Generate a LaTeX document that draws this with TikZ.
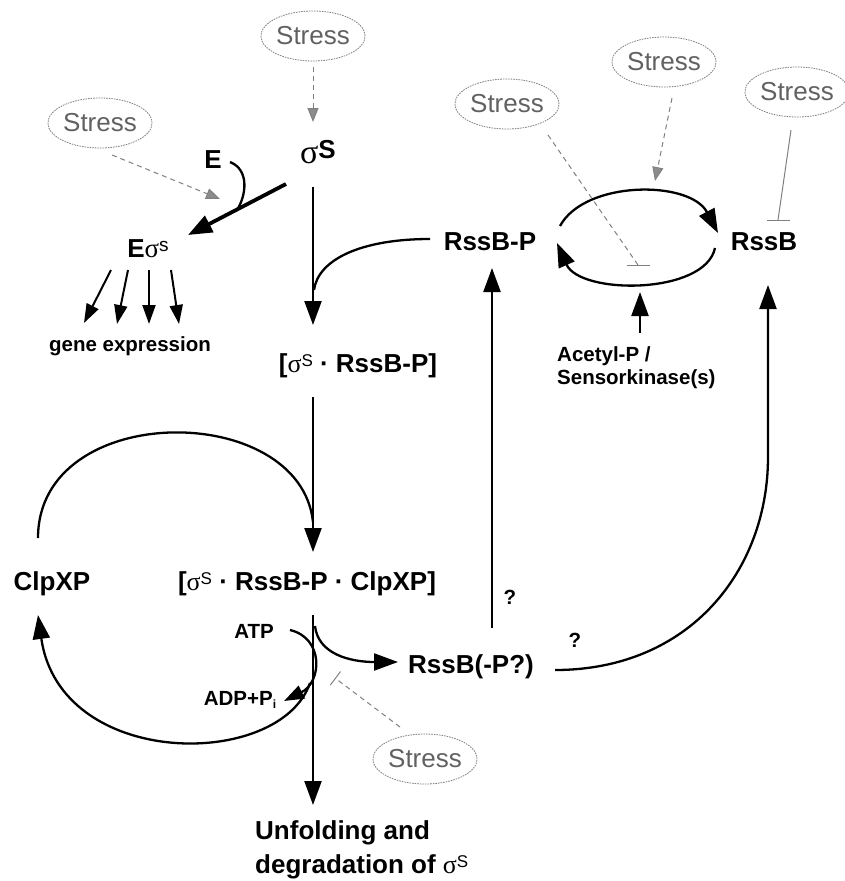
\documentclass[tikz,border=0pt]{standalone}
\usepackage{fontspec}
\setmainfont{Liberation Sans}
\newfontfamily\grk{Liberation Serif}
\usetikzlibrary{arrows.meta,shapes.geometric}
\newcommand{\sig}{{\grk\mdseries σ}}
\newcommand{\supS}[1]{\raisebox{6pt}{\fontsize{17}{17}\selectfont\mdseries #1}}
\begin{document}
\begin{tikzpicture}[x=1pt,y=-1pt,
  lab/.style={font=\fontsize{26}{28}\selectfont\bfseries, inner sep=0},
  small/.style={font=\fontsize{20.5}{23}\selectfont\bfseries, inner sep=0},
  stress/.style={ellipse, draw=black!50, dash pattern=on 1.6pt off 1pt, line width=0.8pt,
    minimum width=100pt, minimum height=50pt, inner sep=0, text=black!62,
    font=\fontsize{26}{28}\selectfont},
  mainarrow/.style={line width=2.3pt, -{Triangle[length=24pt,width=17pt]}},
  mainline/.style={line width=2.3pt},
  thinarrow/.style={line width=2pt, -{Triangle[length=19pt,width=13pt]}},
  gdarrow/.style={draw=black!50, line width=1pt, dash pattern=on 5pt off 4pt,
    -{Triangle[length=14pt,width=11pt,color=black!50,fill=black!45]}},
  gdline/.style={draw=black!50, line width=1pt, dash pattern=on 5pt off 4pt},
  gline/.style={draw=black!50, line width=1pt},
]
\useasboundingbox (0,0) rectangle (845,881);

% ---------- text nodes ----------
\node[stress] (sA) at (313,36) {Stress};
\node[stress] (sB) at (100,123) {Stress};
\node[stress] (sC) at (507,104) {Stress};
\node[stress] (sD) at (664,62) {Stress};
\node[stress, minimum width=95pt] (sE) at (797,92) {Stress};
\node[stress] (sF) at (425,759) {Stress};

\node[lab] (sigS) at (318,152) {{\grk\mdseries\fontsize{34}{34}\selectfont σ}\raisebox{5pt}{S}};
\node[lab] (E) at (213,160) {E};
\node[lab] (Esig) at (148,249) {E{\grk\mdseries\fontsize{27}{27}\selectfont σ}\raisebox{6pt}{\fontsize{19}{19}\selectfont\mdseries s}};
\node[small] (gene) at (130,346) {gene expression};
\node[lab] (cplx1) at (358,366) {[\sig\supS{S} · RssB-P]};
\node[lab] (cplx2) at (307,584) {[\sig\supS{S} · RssB-P · ClpXP]};
\node[lab] (clpxp) at (52,584) {ClpXP};
\node[lab] (rssbp) at (490,242) {RssB-P};
\node[lab] (rssb) at (764,242) {RssB};
\node[small, anchor=west, align=left] (acetyl) at (557,368) {Acetyl-P /\\Sensorkinase(s)};
\node[small] (atp) at (254,631) {ATP};
\node[small] (adp) at (240,700) {ADP+P\raisebox{-3pt}{\fontsize{12}{12}\selectfont i}};
\node[lab] (rssbq) at (471,667) {RssB(-P?)};
\node[small] (q1) at (510,597) {?};
\node[small] (q2) at (575,640) {?};
\node[lab, anchor=west, align=left, font=\fontsize{26}{34}\selectfont\bfseries] (unfold) at (255,850)
  {Unfolding and\\degradation of \sig\supS{S}};

% ---------- coordinates ----------
\coordinate (sAend) at (313,67);   \coordinate (sigTop) at (313,122);
\coordinate (sBend) at (112,155);  \coordinate (eTip) at (220,199);
\coordinate (Ecurv) at (230,162);  \coordinate (Ejoin) at (237,210);
\coordinate (sigL) at (286,184);   \coordinate (EsigTip) at (188,235);
\coordinate (g1s) at (111,270); \coordinate (g1e) at (84,323);
\coordinate (g2s) at (128,270); \coordinate (g2e) at (117,324);
\coordinate (g3s) at (149,270); \coordinate (g3e) at (149,324);
\coordinate (g4s) at (171,270); \coordinate (g4e) at (179,324);
\coordinate (m1s) at (313,187); \coordinate (m1e) at (313,325);
\coordinate (rpL) at (430,239); \coordinate (m1j) at (314,290);
\coordinate (m2s) at (313,397); \coordinate (m2e) at (313,552);
\coordinate (clpTop) at (38,538); \coordinate (m2j) at (313,522);
\coordinate (m3s) at (313,615); \coordinate (m3e) at (313,805);
\coordinate (brS) at (315,626); \coordinate (brE) at (398,662);
\coordinate (atpS) at (290,630); \coordinate (atpE) at (284,701);
\coordinate (retS) at (310,683); \coordinate (retE) at (38,615);
\coordinate (sFs) at (400,727); \coordinate (sFe) at (335,678);
\coordinate (upS) at (492,628); \coordinate (upE) at (492,268);
\coordinate (rqR) at (555,670); \coordinate (rbBend) at (768,457); \coordinate (rbTip) at (768,285);
\coordinate (cyU1) at (560,226); \coordinate (cyU2) at (718,233);
\coordinate (cyL1) at (715,248); \coordinate (cyL2) at (557,243);
\coordinate (acS) at (640,333); \coordinate (acE) at (640,292);
\coordinate (sCs) at (548,135); \coordinate (sCe) at (638,265);
\coordinate (barCl) at (627,265); \coordinate (barCr) at (650,265);
\coordinate (sDs) at (672,98); \coordinate (sDe) at (655,181);
\coordinate (sEs) at (791,130); \coordinate (sEe) at (778,220);
\coordinate (barEl) at (767,220); \coordinate (barEr) at (790,220);

% ---------- connectors ----------
\draw[gdarrow] (sAend) -- (sigTop);
\draw[gdarrow] (sBend) -- (eTip);
\draw[mainline] (Ecurv) .. controls (250,170) and (246,196) .. (Ejoin);
\draw[line width=3.8pt, -{Triangle[length=24pt,width=18pt]}] (sigL) -- (EsigTip);
\draw[thinarrow] (g1s) -- (g1e);
\draw[thinarrow] (g2s) -- (g2e);
\draw[thinarrow] (g3s) -- (g3e);
\draw[thinarrow] (g4s) -- (g4e);

\draw[mainarrow] (m1s) -- (m1e);
\draw[mainline] (rpL) .. controls (360,239) and (318,260) .. (m1j);
\draw[mainarrow] (m2s) -- (m2e);
\draw[mainline] (clpTop) .. controls (38,400) and (300,400) .. (m2j);
\draw[mainarrow] (m3s) -- (m3e);
\draw[mainarrow] (brS) .. controls (318,654) and (350,662) .. (brE);
\draw[line width=2.3pt, -{Triangle[length=20pt,width=14pt]}] (atpS) .. controls (324,638) and (322,682) .. (atpE);
\draw[mainarrow] (retS) .. controls (280,770) and (60,770) .. (retE);
\draw[gdline, -{Bar[width=17pt,line width=1pt]}] (sFs) -- (sFe);

\draw[mainarrow] (upS) -- (upE);
\draw[mainarrow] (rqR) .. controls (690,670) and (768,570) .. (rbBend) -- (rbTip);
\draw[mainarrow] (cyU1) .. controls (585,180) and (690,180) .. (cyU2);
\draw[mainarrow] (cyL1) .. controls (705,295) and (580,295) .. (cyL2);
\draw[mainarrow] (acS) -- (acE);

\draw[gdline] (sCs) -- (sCe);
\draw[gline] (barCl) -- (barCr);
\draw[gdarrow] (sDs) -- (sDe);
\draw[gline] (sEs) -- (sEe);
\draw[gline] (barEl) -- (barEr);
\end{tikzpicture}
\end{document}
